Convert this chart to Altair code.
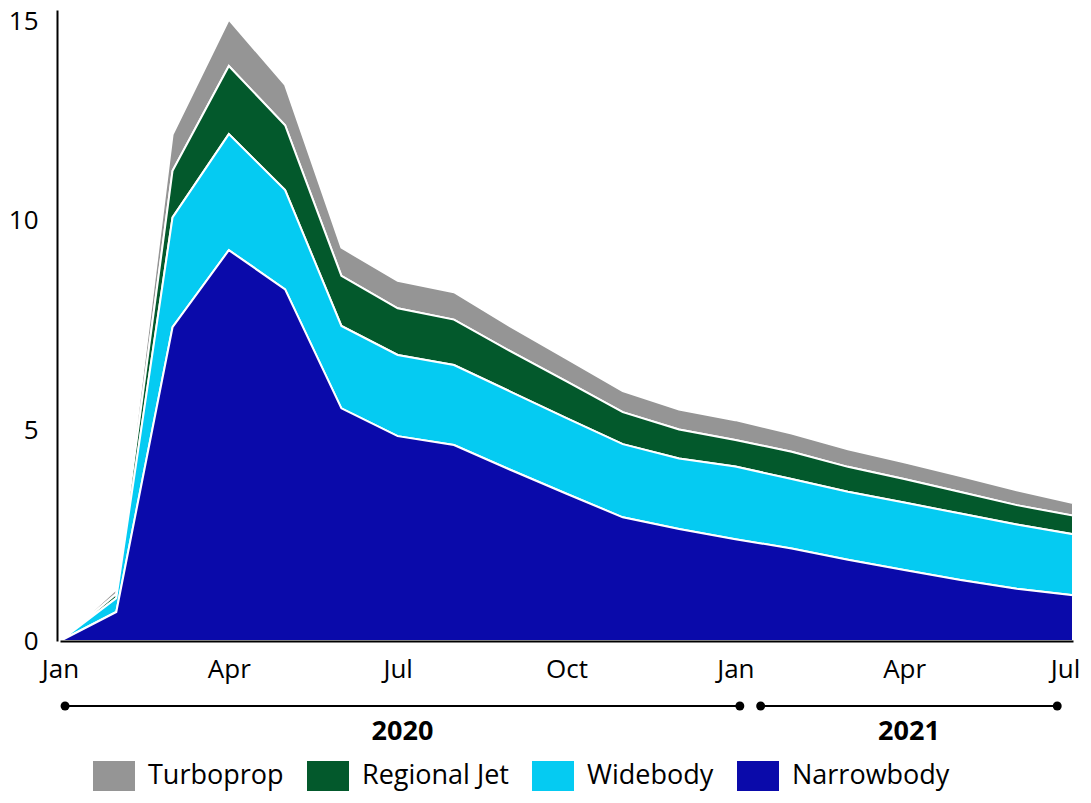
import json
import altair as alt
import pandas as pd

months = ["Jan 2020", "Feb 2020", "Mar 2020", "Apr 2020", "May 2020", "Jun 2020",
          "Jul 2020", "Aug 2020", "Sep 2020", "Oct 2020", "Nov 2020", "Dec 2020",
          "Jan 2021", "Feb 2021", "Mar 2021", "Apr 2021", "May 2021", "Jun 2021", "Jul 2021"]

narrowbody = [0, 0.69, 7.46, 9.29, 8.36, 5.53, 4.87, 4.66, 4.07, 3.50, 2.94, 2.66, 2.42, 2.20, 1.93, 1.69, 1.45, 1.24, 1.09]
widebody = [0, 0.33, 2.61, 2.76, 2.36, 1.96, 1.93, 1.90, 1.86, 1.80, 1.74, 1.68, 1.73, 1.65, 1.62, 1.60, 1.58, 1.53, 1.45]
regional_jet = [0, 0.10, 1.11, 1.62, 1.54, 1.19, 1.11, 1.08, 0.96, 0.87, 0.76, 0.69, 0.63, 0.65, 0.59, 0.56, 0.51, 0.46, 0.44]
turboprop = [0, 0.11, 0.86, 1.10, 0.96, 0.67, 0.65, 0.65, 0.59, 0.54, 0.50, 0.47, 0.47, 0.43, 0.42, 0.40, 0.38, 0.35, 0.30]

series_names = ["Turboprop", "Regional Jet", "Widebody", "Narrowbody"]
series_colors = ["#959595", "#03592C", "#05CBF2", "#0A0AAA"]
tick_labels = ["Jan", "Apr", "Jul", "Oct", "Jan", "Apr", "Jul"]

years = ["2020", "2021"]
year_start = [0.09, 12.45]
year_end = [12.08, 17.72]

FONT = "Open Sans"

rows = []
for name, vals in zip(series_names, [turboprop, regional_jet, widebody, narrowbody]):
    for i, (m, v) in enumerate(zip(months, vals)):
        rows.append({"idx": i, "month": m, "series": name, "value": v,
                     "k": series_names.index(name)})
df = pd.DataFrame(rows)

x_scale = alt.Scale(domain=[0, len(months) - 1], nice=False, zero=False)

areas = alt.Chart(df).mark_area(stroke="white", strokeWidth=2, opacity=1).encode(
    x=alt.X("idx:Q", scale=x_scale,
            axis=alt.Axis(values=[0, 3, 6, 9, 12, 15, 18],
                          labelExpr=f"{json.dumps(tick_labels)}[round(datum.value/3)]",
                          title=None, grid=False, ticks=False, domainColor="black",
                          domainWidth=2, labelFontSize=26, labelColor="black",
                          labelFont=FONT, labelPadding=15, labelFlush=False,
                          labelOffset={"condition": {"test": "datum.value == 18", "value": -8}, "value": 0},
                          labelOverlap=False, zindex=1)),
    y=alt.Y("value:Q", stack="zero", scale=alt.Scale(domain=[0, 15], nice=False),
            axis=alt.Axis(values=[0, 5, 10, 15], title=None, grid=False, ticks=False,
                          domainColor="black", domainWidth=2, labelFontSize=26,
                          labelColor="black", labelFont=FONT, labelPadding=19,
                          labelOffset={"condition": {"test": "datum.value == 15", "value": 11}, "value": 0},
                          offset=3, zindex=1)),
    color=alt.Color("series:N",
                    scale=alt.Scale(domain=series_names, range=series_colors),
                    legend=alt.Legend(orient="none", legendX=33, legendY=745,
                                      direction="horizontal", title=None,
                                      symbolType="M-1,-0.714H1V0.714H-1Z",
                                      symbolSize=1764, symbolStrokeWidth=0,
                                      symbolOpacity=1, labelFontSize=27,
                                      labelFont=FONT, labelColor="black",
                                      labelOffset=13, columnPadding=23,
                                      labelLimit=300)),
    order=alt.Order("k:Q", sort="descending"),
)

ydf = pd.DataFrame({"year": years, "start": year_start, "end": year_end})
ydf["mid"] = (ydf["start"] + ydf["end"]) / 2
pts = pd.DataFrame({"pos": year_start + year_end})

rules = alt.Chart(ydf).mark_rule(color="black", strokeWidth=2).encode(
    x=alt.X("start:Q", scale=x_scale), x2="end:Q", y=alt.value(696))
dots = alt.Chart(pts).mark_point(filled=True, color="black", size=80, opacity=1).encode(
    x=alt.X("pos:Q", scale=x_scale), y=alt.value(696))
ylabels = alt.Chart(ydf).mark_text(fontSize=27, fontWeight="bold", font=FONT,
                                   color="black", baseline="middle").encode(
    x=alt.X("mid:Q", scale=x_scale), y=alt.value(722), text="year:N")

chart = alt.layer(areas, rules, dots, ylabels).properties(
    width=1013, height=631,
    autosize=alt.AutoSizeParams(type="none"),
    padding={"left": 52, "top": 2, "right": 10, "bottom": 153},
).configure_view(stroke=None)

chart.save("out.html", embed_options={"renderer": "svg", "actions": False})
